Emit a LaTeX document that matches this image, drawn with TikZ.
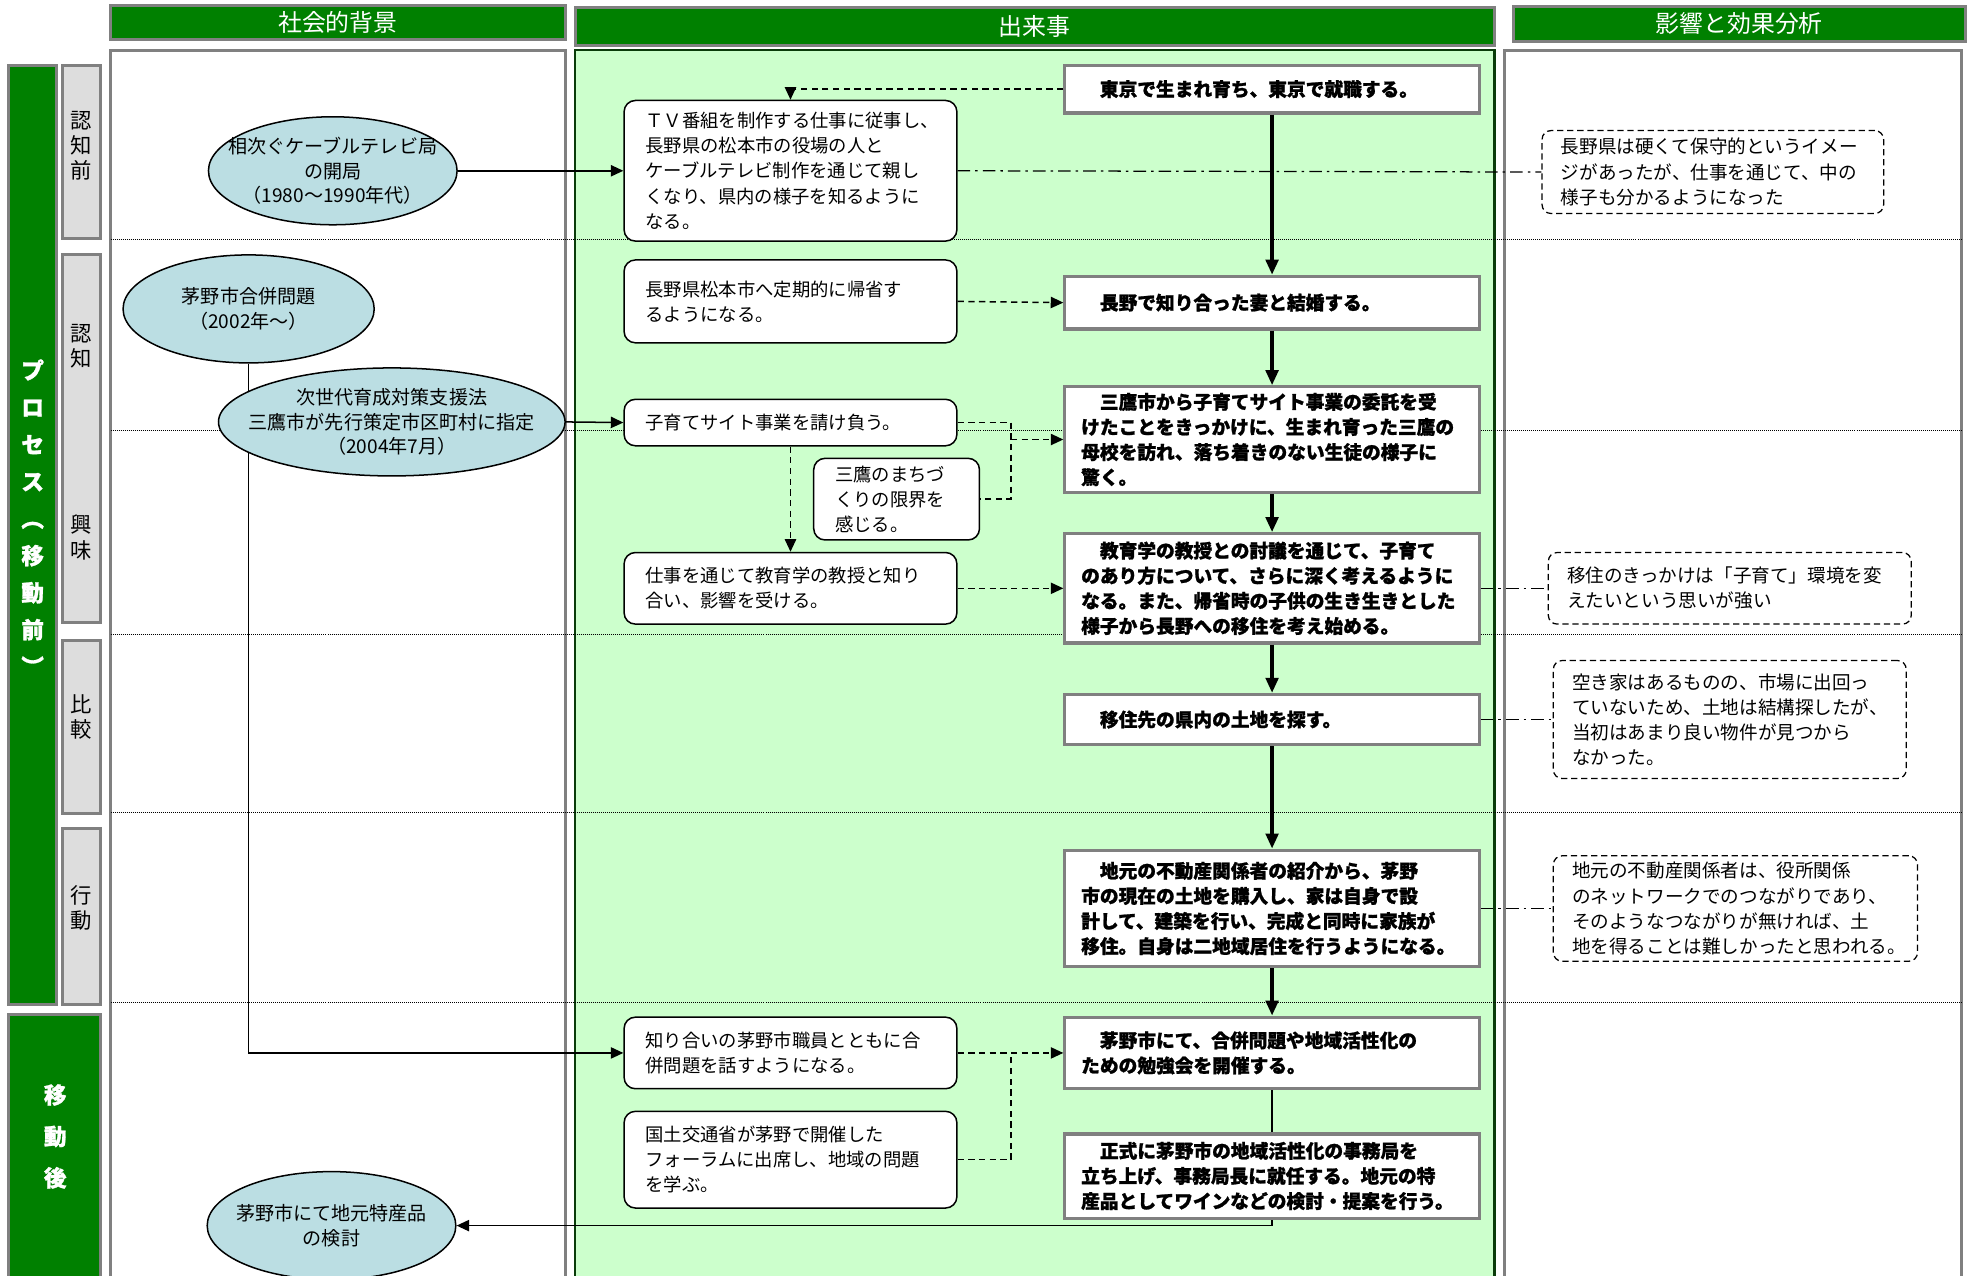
\documentclass[tikz,border=0pt]{standalone}
\usepackage{fontspec}
\setmainfont{Noto Sans CJK JP}[BoldFeatures={FakeBold=1.2}]
\usetikzlibrary{arrows.meta,positioning,shapes.geometric}

\definecolor{hdgreen}{RGB}{0,128,0}
\definecolor{frgray}{RGB}{128,128,128}
\definecolor{lbgray}{RGB}{221,221,221}
\definecolor{evgreen}{RGB}{204,255,204}
\definecolor{dkgreen}{RGB}{10,60,10}
\definecolor{elblue}{RGB}{187,222,227}

\tikzset{
  hdbar/.style={draw=frgray,line width=2.5pt,fill=hdgreen,text=white,inner sep=0pt,
    font=\fontsize{19}{22}\selectfont},
  procbar/.style={draw=frgray,line width=2.5pt,fill=hdgreen},
  stagebox/.style={draw=frgray,line width=2.5pt,fill=lbgray},
  colframe/.style={draw=frgray,line width=2.5pt,fill=white},
  rowline/.style={densely dotted,line width=0.6pt},
  vtext/.style={align=center,font=\fontsize{17}{20}\selectfont},
  ptext/.style={align=center,text=white,font=\bfseries\fontsize{18}{29.5}\selectfont},
  evell/.style={ellipse,draw,line width=1.2pt,fill=elblue,inner sep=0pt},
  eltext/.style={align=center,font=\fontsize{15.2}{19.5}\selectfont},
  evbox/.style={draw,line width=1.2pt,fill=white,rounded corners=9pt,align=left,
    inner xsep=17pt,font=\fontsize{14.6}{20}\selectfont},
  actbox/.style={draw=frgray,line width=2.5pt,fill=white,align=left,inner xsep=13pt,
    text width=304pt,minimum width=330pt,font=\bfseries\fontsize{14.9}{20}\selectfont},
  notebox/.style={draw,dash pattern=on 5pt off 3pt,line width=1pt,fill=white,rounded corners=7pt,
    align=left,inner xsep=15pt,font=\fontsize{14.8}{20}\selectfont},
  thin/.style={line width=1.2pt,-{Triangle[length=10pt,width=9pt]}},
  evdash/.style={line width=1.2pt,dash pattern=on 5pt off 3.5pt},
  flow/.style={line width=2.8pt,-{Triangle[length=12pt,width=10pt]}},
  remark/.style={line width=1pt,dash pattern=on 10pt off 4pt on 2pt off 4pt}
}

\begin{document}
\begin{tikzpicture}[x=1pt,y=-1pt]
\useasboundingbox (0,0) rectangle (1568,1016);

% columns
\draw[colframe] (88,40) rectangle (450,1030);
\draw[draw=dkgreen,line width=2pt,fill=evgreen] (458,40) rectangle (1190,1030);
\draw[colframe] (1198,40) rectangle (1562,1030);

\node[hdbar,minimum width=362pt,minimum height=27pt] (hdA) at (269,18) {社会的背景};
\node[hdbar,minimum width=732pt,minimum height=30pt] (hdB) at (824,21) {出来事};
\node[hdbar,minimum width=360pt,minimum height=28pt] (hdC) at (1385,19) {影響と効果分析};

% process stages
\draw[procbar] (7,52) rectangle (45,800);
\node[ptext] (prA) at (26,412) {プ\\ロ\\セ\\ス\\︵\\移\\動\\前\\︶};
\draw[procbar] (7,808) rectangle (80,1030);
\node[ptext,font=\bfseries\fontsize{18}{33}\selectfont] (prB) at (44,905) {移\\動\\後};

\draw[stagebox] (50,52) rectangle (80,190);
\draw[stagebox] (50,203) rectangle (80,496);
\draw[stagebox] (50,510) rectangle (80,648);
\draw[stagebox] (50,660) rectangle (80,800);
\node[vtext] (stA) at (65,116) {認\\知\\前};
\node[vtext] (stB) at (65,276) {認\\知};
\node[vtext] (stC) at (65,428) {興\\味};
\node[vtext] (stD) at (65,571) {比\\較};
\node[vtext] (stE) at (65,723) {行\\動};

\foreach \y in {191,343,505,647,798}
  \draw[rowline] (88,\y) -- (1562,\y);

% social background
\node[evell,minimum width=198pt,minimum height=86pt,
  label={[eltext]center:{相次ぐケーブルテレビ局\\の開局\\（1980～1990年代）}}] (elA) at (265,136) {};
\node[evell,minimum width=200pt,minimum height=86pt,
  label={[eltext]center:{茅野市合併問題\\（2002年～）}}] (elB) at (198,246) {};
\node[evell,minimum width=198pt,minimum height=86pt,
  label={[eltext]center:{茅野市にて地元特産品\\の検討}}] (elD) at (264,976) {};

% events
\node[evbox,text width=231pt,minimum width=265pt,minimum height=112pt] (rb1) at (629.5,136)
  {ＴＶ番組を制作する仕事に従事し、\\長野県の松本市の役場の人と\\ケーブルテレビ制作を通じて親し\\くなり、県内の様子を知るように\\なる。};
\node[evbox,text width=231pt,minimum width=265pt,minimum height=66pt] (rb2) at (629.5,240)
  {長野県松本市へ定期的に帰省す\\るようになる。};
\node[evbox,text width=231pt,minimum width=265pt,minimum height=37pt] (rb3) at (629.5,336.5)
  {子育てサイト事業を請け負う。};
\node[evbox,text width=98pt,minimum width=132pt,minimum height=65pt] (rb4) at (714,397.5)
  {三鷹のまちづ\\くりの限界を\\感じる。};
\node[evbox,text width=231pt,minimum width=265pt,minimum height=57pt] (rb5) at (629.5,468.5)
  {仕事を通じて教育学の教授と知り\\合い、影響を受ける。};
\node[evbox,text width=231pt,minimum width=265pt,minimum height=57pt] (rb6) at (629.5,838.5)
  {知り合いの茅野市職員とともに合\\併問題を話すようになる。};
\node[evbox,text width=231pt,minimum width=265pt,minimum height=77pt] (rb7) at (629.5,923.5)
  {国土交通省が茅野で開催した\\フォーラムに出席し、地域の問題\\を学ぶ。};

\node[actbox,minimum height=38pt] (bx1) at (1013,71) {　東京で生まれ育ち、東京で就職する。};
\node[actbox,minimum height=42pt] (bx2) at (1013,241) {　長野で知り合った妻と結婚する。};
\node[actbox,minimum height=84pt] (bx3) at (1013,350)
  {　三鷹市から子育てサイト事業の委託を受\\けたことをきっかけに、生まれ育った三鷹の\\母校を訪れ、落ち着きのない生徒の様子に\\驚く。};
\node[actbox,minimum height=87pt] (bx4) at (1013,468.5)
  {　教育学の教授との討議を通じて、子育て\\のあり方について、さらに深く考えるように\\なる。また、帰省時の子供の生き生きとした\\様子から長野への移住を考え始める。};
\node[actbox,minimum height=40pt] (bx5) at (1013,573) {　移住先の県内の土地を探す。};
\node[actbox,minimum height=93pt] (bx6) at (1013,723.5)
  {　地元の不動産関係者の紹介から、茅野\\市の現在の土地を購入し、家は自身で設\\計して、建築を行い、完成と同時に家族が\\移住。自身は二地域居住を行うようになる。};
\node[actbox,minimum height=57pt] (bx7) at (1013,838.5)
  {　茅野市にて、合併問題や地域活性化の\\ための勉強会を開催する。};

% lines passing behind later shapes
\draw[thin] (elB.south) |- (rb6.west);
\draw[thin] (bx7.south) |- (elD.east);

\node[evell,minimum width=276pt,minimum height=86pt,
  label={[eltext]center:{次世代育成対策支援法\\三鷹市が先行策定市区町村に指定\\（2004年7月）}}] (elC) at (312,336) {};
\node[actbox,minimum height=67pt] (bx8) at (1013,936.5)
  {　正式に茅野市の地域活性化の事務局を\\立ち上げ、事務局長に就任する。地元の特\\産品としてワインなどの検討・提案を行う。};

% effects
\node[notebox,text width=242pt,minimum width=272pt,minimum height=66pt] (nt1) at (1364,137)
  {長野県は硬くて保守的というイメー\\ジがあったが、仕事を通じて、中の\\様子も分かるようになった};
\node[notebox,text width=259pt,minimum width=289pt,minimum height=57pt] (nt2) at (1377.5,468.5)
  {移住のきっかけは「子育て」環境を変\\えたいという思いが強い};
\node[notebox,text width=251pt,minimum width=281pt,minimum height=94pt] (nt3) at (1377.5,573)
  {空き家はあるものの、市場に出回っ\\ていないため、土地は結構探したが、\\当初はあまり良い物件が見つから\\なかった。};
\node[notebox,text width=260pt,minimum width=290pt,minimum height=84pt] (nt4) at (1382,723.5)
  {地元の不動産関係者は、役所関係\\のネットワークでのつながりであり、\\そのようなつながりが無ければ、土\\地を得ることは難しかったと思われる。};

% connectors
\draw[thin] (elA.east) -- (rb1.west);
\draw[thin] (elC.east) -- (rb3.west);
\draw[evdash,-{Triangle[length=10pt,width=9pt]}] (bx1.west) -| (rb1.north);
\draw[evdash,-{Triangle[length=10pt,width=9pt]}] (rb2.east) -- (bx2.west);
\coordinate (jnA) at (805,350);
\draw[evdash] (rb3.east) -| (805,397.5) -- (rb4.east);
\draw[evdash,-{Triangle[length=10pt,width=9pt]}] (jnA) -- (bx3.west);
\draw[evdash,-{Triangle[length=10pt,width=9pt]}] (rb3.south) -- (rb5.north);
\draw[evdash,-{Triangle[length=10pt,width=9pt]}] (rb5.east) -- (bx4.west);
\coordinate (jnB) at (805,838.5);
\draw[evdash,-{Triangle[length=10pt,width=9pt]}] (rb6.east) -- (bx7.west);
\draw[evdash] (rb7.east) -| (jnB);

\draw[flow] (bx1.south) -- (bx2.north);
\draw[flow] (bx2.south) -- (bx3.north);
\draw[flow] (bx3.south) -- (bx4.north);
\draw[flow] (bx4.south) -- (bx5.north);
\draw[flow] (bx5.south) -- (bx6.north);
\draw[flow] (bx6.south) -- (bx7.north);

\draw[remark] (rb1.east) -- (nt1.west);
\draw[remark] (bx4.east) -- (nt2.west);
\draw[remark] (bx5.east) -- (nt3.west);
\draw[remark] (bx6.east) -- (nt4.west);
\end{tikzpicture}
\end{document}
